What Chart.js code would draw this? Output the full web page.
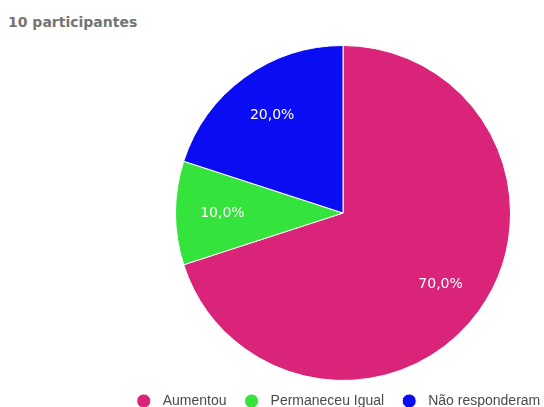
<!DOCTYPE html>
<html>
<head>
<meta charset="utf-8">
<script src="https://cdn.jsdelivr.net/npm/chart.js@4/dist/chart.umd.min.js"></script>
<style>
  html, body { margin: 0; padding: 0; background: #fff; }
  body { width: 544px; height: 407px; overflow: hidden; position: relative; }
  #title {
    position: absolute; left: 8px; top: 14px;
    font-family: "Comic Sans MS", "DejaVu Sans", sans-serif;
    font-size: 14px; font-weight: bold; color: #747474;
  }
  #wrap { position: absolute; left: 0; top: 0; width: 686px; height: 418px; }
</style>
</head>
<body>
<div id="title">10 participantes</div>
<div id="wrap"><canvas id="pie"></canvas></div>
<script>
// respostas e percentagens
const categories = ['Aumentou', 'Permaneceu Igual', 'Não responderam'];
const percentages = [70, 10, 20];
const sliceColors = ['#d9247a', '#34e33c', '#0a0cf2'];

// escreve a percentagem dentro de cada fatia
const sliceLabels = {
  id: 'sliceLabels',
  afterDatasetsDraw(chart) {
    const ctx = chart.ctx;
    const meta = chart.getDatasetMeta(0);
    ctx.save();
    ctx.fillStyle = '#ffffff';
    ctx.font = '14px "Comic Sans MS", "DejaVu Sans", sans-serif';
    ctx.textAlign = 'center';
    ctx.textBaseline = 'middle';
    meta.data.forEach((arc, i) => {
      const mid = (arc.startAngle + arc.endAngle) / 2;
      const r = arc.outerRadius * 0.72;
      const x = arc.x + Math.cos(mid) * r;
      const y = arc.y + Math.sin(mid) * r;
      ctx.fillText(percentages[i].toFixed(1).replace('.', ',') + '%', x, y);
    });
    ctx.restore();
  }
};

// legenda com um pouco mais de folga à volta do texto
const baseLabels = Chart.overrides.pie.plugins.legend.labels.generateLabels;

new Chart(document.getElementById('pie'), {
  type: 'pie',
  data: {
    labels: categories,
    datasets: [{
      data: percentages,
      backgroundColor: sliceColors,
      borderColor: '#ffffff',
      borderWidth: 1
    }]
  },
  options: {
    responsive: true,
    maintainAspectRatio: false,
    animation: false,
    layout: { padding: { top: 45 } },
    plugins: {
      legend: {
        position: 'bottom',
        labels: {
          usePointStyle: true,
          pointStyle: 'circle',
          boxWidth: 10,
          boxHeight: 10,
          padding: 13,
          color: '#4a4a4a',
          font: { family: '"Liberation Sans", Arial, sans-serif', size: 14 },
          generateLabels(chart) {
            return baseLabels(chart).map(item => {
              item.text = '\u2002' + item.text + '\u2002';
              return item;
            });
          }
        }
      },
      tooltip: { enabled: false }
    }
  },
  plugins: [sliceLabels]
});
</script>
</body>
</html>
